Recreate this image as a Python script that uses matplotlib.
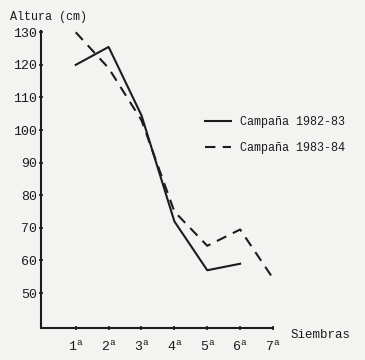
import matplotlib.pyplot as plt

# Data
siembras = [1, 2, 3, 4, 5, 6, 7]
tick_labels = ['1$^{\\mathrm{a}}$', '2$^{\\mathrm{a}}$', '3$^{\\mathrm{a}}$', '4$^{\\mathrm{a}}$',
               '5$^{\\mathrm{a}}$', '6$^{\\mathrm{a}}$', '7$^{\\mathrm{a}}$']
altura_82_83 = [120, 125.5, 104.5, 72, 57, 59]
altura_83_84 = [130, 119, 103, 75, 64.5, 69.5, 54.5]
yticks = [50, 60, 70, 80, 90, 100, 110, 120, 130]

plt.rcParams['font.family'] = ['Liberation Mono', 'DejaVu Sans Mono']
plt.rcParams['mathtext.fontset'] = 'custom'
plt.rcParams['mathtext.rm'] = 'Liberation Mono'

bg = '#f3f3f1'
ink = '#1c1c1c'

fig = plt.figure(figsize=(3.65, 3.6), dpi=100, facecolor=bg)
ax = fig.add_axes([0.112, 0.089, 0.636, 0.825], facecolor=bg)

ax.plot(siembras[:6], altura_82_83, color=ink, lw=1.5, label='Campaña 1982-83')
ax.plot(siembras, altura_83_84, color=ink, lw=1.5, ls=(0, (5, 3.5)), label='Campaña 1983-84')

ax.set_xlim(-0.06, 7)
ax.set_ylim(39.3, 130.4)
ax.set_xticks(siembras)
ax.set_xticklabels(tick_labels, fontsize=9.5, color=ink)
ax.set_yticks(yticks)
ax.set_yticklabels([str(v) for v in yticks], fontsize=9.5, color=ink)
ax.tick_params(axis='both', direction='inout', length=3, width=1.2, color=ink)
ax.tick_params(axis='x', pad=7)
ax.tick_params(axis='y', pad=1)

for s in ['top', 'right']:
    ax.spines[s].set_visible(False)
for s in ['left', 'bottom']:
    ax.spines[s].set_linewidth(1.5)
    ax.spines[s].set_color(ink)

fig.text(0.027, 0.952, 'Altura (cm)', fontsize=8.5, color=ink, ha='left', va='center')
fig.text(0.795, 0.07, 'Siembras', fontsize=9, color=ink, ha='left', va='center')

ax.legend(loc='upper left', bbox_to_anchor=(0.66, 0.75), frameon=False, fontsize=8.5,
          handlelength=2.2, handletextpad=0.8, labelspacing=1.2, labelcolor=ink)

fig.savefig('out.png', dpi=100, facecolor=bg)
